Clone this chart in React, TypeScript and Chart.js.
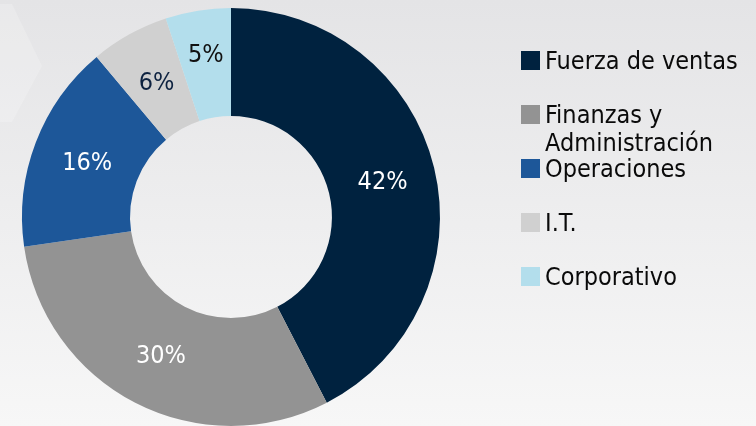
import React, { useEffect, useRef } from "react";
import { Chart, registerables } from "chart.js";

Chart.register(...registerables);

const categories: (string | string[])[] = [
  "Fuerza de ventas",
  ["Finanzas y", "Administración"],
  "Operaciones",
  "I.T.",
  "Corporativo",
];
const shares = [42, 30, 16, 6, 5];
const valueLabels = ["42%", "30%", "16%", "6%", "5%"];
const sliceColors = ["#00223F", "#939393", "#1D5799", "#D0D0D0", "#B3DEEC"];
const labelColors = ["#FFFFFF", "#FFFFFF", "#FFFFFF", "#0D2240", "#111111"];

const FONT = "'DejaVu Sans Condensed', 'DejaVu Sans', sans-serif";

const backgroundPlugin = {
  id: "bgPaint",
  beforeDraw(chart: any) {
    const { ctx, width, height } = chart;
    ctx.save();
    const g = ctx.createLinearGradient(0, 0, 0, height);
    g.addColorStop(0, "#E4E4E6");
    g.addColorStop(1, "#F7F7F7");
    ctx.fillStyle = g;
    ctx.fillRect(0, 0, width, height);
    ctx.fillStyle = "rgba(255,255,255,0.2)";
    ctx.beginPath();
    ctx.moveTo(0, 4);
    ctx.lineTo(12, 4);
    ctx.lineTo(42, 66);
    ctx.lineTo(12, 122);
    ctx.lineTo(0, 122);
    ctx.closePath();
    ctx.fill();
    ctx.restore();
  },
};

const sliceLabelPlugin = {
  id: "sliceLabels",
  afterDatasetsDraw(chart: any, _args: any, opts: any) {
    const { ctx } = chart;
    const meta = chart.getDatasetMeta(0);
    ctx.save();
    ctx.font = `25px ${FONT}`;
    ctx.textAlign = "center";
    ctx.textBaseline = "middle";
    meta.data.forEach((arc: any, i: number) => {
      const p = arc.getProps(["x", "y", "startAngle", "endAngle", "innerRadius", "outerRadius"], true);
      const mid = (p.startAngle + p.endAngle) / 2;
      const extra = (opts.radialNudge && opts.radialNudge[i]) || 0;
      const r = (p.innerRadius + p.outerRadius) / 2 + extra;
      const x = p.x + Math.cos(mid) * r;
      const y = p.y + Math.sin(mid) * r;
      ctx.fillStyle = labelColors[i];
      ctx.fillText(valueLabels[i], x + 1, y + 2);
    });
    ctx.restore();
  },
};

const legendPlugin = {
  id: "sideLegend",
  afterDraw(chart: any) {
    const { ctx } = chart;
    const labels = chart.data.labels as (string | string[])[];
    const colors = chart.data.datasets[0].backgroundColor as string[];
    const boxX = 521;
    const box = 19;
    const textX = 545;
    const firstBaseline = 69;
    const step = 54;
    const lineH = 28;
    ctx.save();
    ctx.font = `25px ${FONT}`;
    ctx.textAlign = "left";
    ctx.textBaseline = "alphabetic";
    labels.forEach((lab, i) => {
      const base = firstBaseline + i * step;
      ctx.fillStyle = colors[i];
      ctx.fillRect(boxX, base - 18, box, box);
      ctx.fillStyle = "#0A0A0A";
      const lines = Array.isArray(lab) ? lab : [lab];
      lines.forEach((ln, j) => ctx.fillText(ln, textX, base + j * lineH));
    });
    ctx.restore();
  },
};

export default function App() {
  const ref = useRef<HTMLCanvasElement | null>(null);
  useEffect(() => {
    if (!ref.current) return;
    const chart = new Chart(ref.current, {
      type: "doughnut",
      data: {
        labels: categories as any,
        datasets: [
          {
            data: shares,
            backgroundColor: sliceColors,
            borderWidth: 0,
          },
        ],
      },
      options: {
        animation: false,
        responsive: false,
        maintainAspectRatio: false,
        cutout: "48.3%",
        layout: { padding: { left: 22, top: 8, right: 316, bottom: 0 } },
        plugins: {
          legend: { display: false },
          tooltip: { enabled: false },
          sliceLabels: { radialNudge: [0, 0, 0, 0, 11] },
        } as any,
      },
      plugins: [backgroundPlugin, sliceLabelPlugin, legendPlugin],
    });
    return () => chart.destroy();
  }, []);
  return (
    <div style={{ position: "fixed", left: 0, top: 0, width: 756, height: 426 }}>
      <canvas ref={ref} width={756} height={426} style={{ width: 756, height: 426, display: "block" }} />
    </div>
  );
}
